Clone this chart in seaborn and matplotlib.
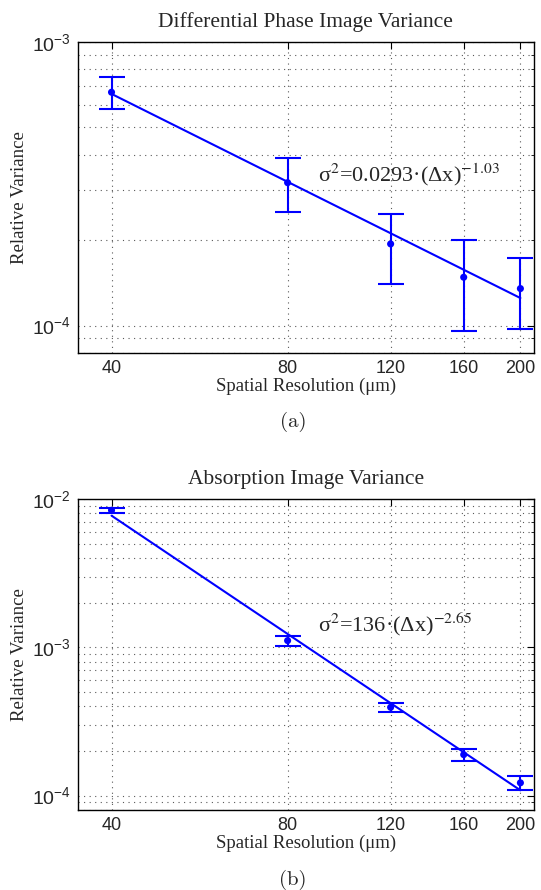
import matplotlib
matplotlib.use("Agg")
import matplotlib.pyplot as plt
import seaborn as sns
from matplotlib.ticker import FixedLocator, FixedFormatter, LogLocator, NullLocator, NullFormatter

# spatial resolution (um)
res = [40, 80, 120, 160, 200]
res_labels = ["40", "80", "120", "160", "200"]

# differential phase image variance
phase_var = [6.65e-4, 3.19e-4, 1.94e-4, 1.48e-4, 1.35e-4]
phase_hi = [7.52e-4, 3.89e-4, 2.47e-4, 2.00e-4, 1.73e-4]
phase_lo = [5.79e-4, 2.52e-4, 1.40e-4, 9.53e-5, 9.70e-5]

# absorption image variance
abs_var = [8.39e-3, 1.11e-3, 3.94e-4, 1.89e-4, 1.22e-4]
abs_hi = [8.69e-3, 1.19e-3, 4.20e-4, 2.05e-4, 1.355e-4]
abs_lo = [8.04e-3, 1.016e-3, 3.65e-4, 1.715e-4, 1.086e-4]

# power law fit lines (end points)
fit_x = [40, 200]
phase_fit = [6.56e-4, 1.25e-4]
abs_fit = [7.72e-3, 1.086e-4]

sns.set_style("white")
plt.rcParams["font.family"] = ["Liberation Serif", "DejaVu Serif"]
plt.rcParams["mathtext.fontset"] = "custom"
plt.rcParams["mathtext.rm"] = "Liberation Sans"
plt.rcParams["mathtext.it"] = "Liberation Sans:italic"
plt.rcParams["mathtext.bf"] = "Liberation Sans:bold"

W, H = 541, 890
fig = plt.figure(figsize=(W / 100, H / 100), dpi=100)
dots = (0, (1, 4))


def panel(top, bottom, var, hi, lo, fit, ylim, decades, title, note, note_y, cap, cap_y):
    left, right = 77.6, 534
    ax = fig.add_axes([left / W, 1 - bottom / H, (right - left) / W, (bottom - top) / H])
    ax.set_xscale("log")
    ax.set_yscale("log")

    yerr = [[v - l for v, l in zip(var, lo)], [h - v for v, h in zip(var, hi)]]
    ax.errorbar(res, var, yerr=yerr, fmt="none", ecolor="blue",
                elinewidth=1.5, capsize=9.5, capthick=1.5, zorder=3)
    sns.lineplot(x=fit_x, y=fit, color="blue", lw=1.5, ax=ax, zorder=3)
    sns.scatterplot(x=res, y=var, color="blue", s=26, edgecolor="none", ax=ax, zorder=4)

    ax.set_xlim(35, 211)
    ax.set_ylim(*ylim)
    ax.xaxis.set_major_locator(FixedLocator(res))
    ax.xaxis.set_major_formatter(FixedFormatter(res_labels))
    ax.xaxis.set_minor_locator(NullLocator())
    ax.yaxis.set_major_locator(FixedLocator([10.0 ** d for d in decades]))
    ax.yaxis.set_major_formatter(FixedFormatter([r"$10^{%d}$" % d for d in decades]))
    ax.yaxis.set_minor_locator(LogLocator(base=10, subs=range(2, 10), numticks=20))
    ax.yaxis.set_minor_formatter(NullFormatter())

    ax.grid(True, which="major", axis="both", ls=dots, color="0.35", lw=0.8)
    ax.grid(True, which="minor", axis="y", ls=dots, color="0.35", lw=0.8)
    ax.tick_params(which="both", direction="in", top=True, right=True, color="black")
    ax.tick_params(which="major", length=5, width=0.8, pad=5)
    ax.tick_params(which="minor", length=2.5, width=0.6)
    ax.tick_params(axis="x", which="major", labelsize=13)
    ax.tick_params(axis="y", which="major", labelsize=14)
    for lab in ax.get_xticklabels() + ax.get_yticklabels():
        lab.set_fontfamily("Liberation Sans")
    for s in ax.spines.values():
        s.set_linewidth(1.0)
        s.set_color("black")

    ax.set_title(title, fontsize=15.5, pad=11)
    ax.set_xlabel("Spatial Resolution (\u03bcm)", fontsize=13.5)
    ax.xaxis.set_label_coords(0.5, -25 / (bottom - top))
    ax.set_ylabel("Relative Variance", fontsize=13.5)
    ax.yaxis.set_label_coords(-(left - 20) / (right - left), 0.5)
    ax.yaxis.label.set_va("center")

    ax.text(90, note_y, note, fontsize=16, math_fontfamily="stix", va="baseline", ha="left")
    fig.text(0.5416, 1 - cap_y / H, cap, family="cmr10", fontsize=15, ha="center", va="center")
    return ax


panel(42, 353, phase_var, phase_hi, phase_lo, phase_fit, (8e-5, 1e-3), [-4, -3],
      "Differential Phase Image Variance",
      "\u03c3$^2$=0.0293\u00b7(\u0394x)$^{-1.03}$", 3.23e-4, "(a)", 421.7)
panel(499, 810, abs_var, abs_hi, abs_lo, abs_fit, (8e-5, 1e-2), [-4, -3, -2],
      "Absorption Image Variance",
      "\u03c3$^2$=136\u00b7(\u0394x)$^{-2.65}$", 1.27e-3, "(b)", 880)

fig.savefig("out.png", dpi=100)
